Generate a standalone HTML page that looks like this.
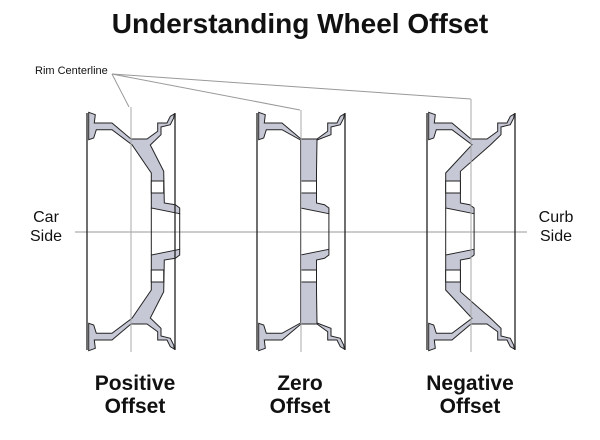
<!DOCTYPE html>
<html><head><meta charset="utf-8"><style>
html,body{margin:0;padding:0;background:#fff;}
svg{display:block;font-family:"Liberation Sans",sans-serif;}
</style></head><body>
<svg width="600" height="440" viewBox="0 0 600 440">
<defs>
<g id="rimtop">
</g>
</defs>
<text x="300" y="33" text-anchor="middle" font-size="28" font-weight="bold" fill="#111">Understanding Wheel Offset</text>
<text x="35" y="74" font-size="11" fill="#111">Rim Centerline</text>
<g stroke="#999" stroke-width="1" fill="none">
<line x1="112" y1="74" x2="129" y2="107"/>
<line x1="112" y1="74" x2="300" y2="110"/>
<line x1="112" y1="74" x2="471" y2="99"/>
<line x1="75" y1="232" x2="527" y2="232"/>
</g>
<!-- wheel 1 -->
<g transform="translate(87,113)" stroke="#222" stroke-width="1" fill="#c6c8d6">
<polygon points="1.7,-0.7 8.3,1.7 7.3,10 25,10 44,26 60,26 70.7,18.3 70.7,10 80,10 83.3,3.3 87.3,1 86.7,5 83.3,11.7 74,14 74,21.7 63.3,32 76.7,58.3 77.3,90 88.3,91.7 92.7,95 92.7,100.7 64.3,95 64.3,60 45,31.7 25,16.7 9.3,16.7 6.7,25 1.7,26.7"/>
<polygon transform="translate(0,237) scale(1,-1)" points="1.7,-0.7 8.3,1.7 7.3,10 25,10 44,26 60,26 70.7,18.3 70.7,10 80,10 83.3,3.3 87.3,1 86.7,5 83.3,11.7 74,14 74,21.7 63.3,32 76.7,58.3 77.3,90 88.3,91.7 92.7,95 92.7,100.7 64.3,95 64.3,60 45,31.7 25,16.7 9.3,16.7 6.7,25 1.7,26.7"/>
<rect x="64.3" y="68" width="12.4" height="12" fill="#fff"/>
<rect x="64.3" y="157" width="12.4" height="12" fill="#fff"/>
<line x1="64.3" y1="95" x2="64.3" y2="142"/>
<line x1="92.7" y1="100.7" x2="92.7" y2="136.3"/>
<line x1="0" y1="0" x2="0" y2="237" stroke-width="1.3"/>
<line x1="88" y1="0" x2="88" y2="237" stroke-width="1.3"/>
</g>
<!-- wheel 2 -->
<g transform="translate(257,113)" stroke="#222" stroke-width="1" fill="#c6c8d6">
<polygon points="1.7,-0.7 8.3,1.7 7.3,10 25,10 44,26 60,26 70.7,18.3 70.7,10 80,10 83.3,3.3 87.3,1 86.7,5 83.3,11.7 74,14 74,21.7 60,27 59.5,58.3 59.5,90 67.5,91.7 71.9,95 71.9,100.7 43.5,95 43.5,60 43.5,27 25,16.7 9.3,16.7 6.7,25 1.7,26.7"/>
<polygon transform="translate(0,237) scale(1,-1)" points="1.7,-0.7 8.3,1.7 7.3,10 25,10 44,26 60,26 70.7,18.3 70.7,10 80,10 83.3,3.3 87.3,1 86.7,5 83.3,11.7 74,14 74,21.7 60,27 59.5,58.3 59.5,90 67.5,91.7 71.9,95 71.9,100.7 43.5,95 43.5,60 43.5,27 25,16.7 9.3,16.7 6.7,25 1.7,26.7"/>
<rect x="43.5" y="68" width="16" height="12" fill="#fff"/>
<rect x="43.5" y="157" width="16" height="12" fill="#fff"/>
<line x1="43.5" y1="95" x2="43.5" y2="142"/>
<line x1="71.9" y1="100.7" x2="71.9" y2="136.3"/>
<line x1="0" y1="0" x2="0" y2="237" stroke-width="1.3"/>
<line x1="88" y1="0" x2="88" y2="237" stroke-width="1.3"/>
</g>
<!-- wheel 3 -->
<g transform="translate(427,113)" stroke="#222" stroke-width="1" fill="#c6c8d6">
<polygon points="1.7,-0.7 8.3,1.7 7.3,10 25,10 44,26 60,26 70.7,18.3 70.7,10 80,10 83.3,3.3 87.3,1 86.7,5 83.3,11.7 74,14 74,21.7 63.3,32 33.4,58.3 33.4,90 42.7,91.7 47.1,95 47.1,100.7 18.7,95 18.7,60 45,31.7 25,16.7 9.3,16.7 6.7,25 1.7,26.7"/>
<polygon transform="translate(0,237) scale(1,-1)" points="1.7,-0.7 8.3,1.7 7.3,10 25,10 44,26 60,26 70.7,18.3 70.7,10 80,10 83.3,3.3 87.3,1 86.7,5 83.3,11.7 74,14 74,21.7 63.3,32 33.4,58.3 33.4,90 42.7,91.7 47.1,95 47.1,100.7 18.7,95 18.7,60 45,31.7 25,16.7 9.3,16.7 6.7,25 1.7,26.7"/>
<rect x="18.7" y="68" width="14.7" height="12" fill="#fff"/>
<rect x="18.7" y="157" width="14.7" height="12" fill="#fff"/>
<line x1="18.7" y1="95" x2="18.7" y2="142"/>
<line x1="47.1" y1="100.7" x2="47.1" y2="136.3"/>
<line x1="0" y1="0" x2="0" y2="237" stroke-width="1.3"/>
<line x1="88" y1="0" x2="88" y2="237" stroke-width="1.3"/>
</g>
<g stroke="#aaa" stroke-width="1">
<line x1="131" y1="107" x2="131" y2="352"/>
<line x1="301" y1="110" x2="301" y2="352"/>
<line x1="471" y1="99" x2="471" y2="352"/>
</g>
<g font-size="16" fill="#111" text-anchor="middle">
<text x="46" y="222">Car</text>
<text x="46" y="241">Side</text>
<text x="556" y="222">Curb</text>
<text x="556" y="241">Side</text>
</g>
<g font-size="21" font-weight="bold" fill="#111" text-anchor="middle">
<text x="135" y="390">Positive</text>
<text x="135" y="413">Offset</text>
<text x="300" y="390">Zero</text>
<text x="300" y="413">Offset</text>
<text x="470" y="390">Negative</text>
<text x="470" y="413">Offset</text>
</g>
</svg>
</body></html>
